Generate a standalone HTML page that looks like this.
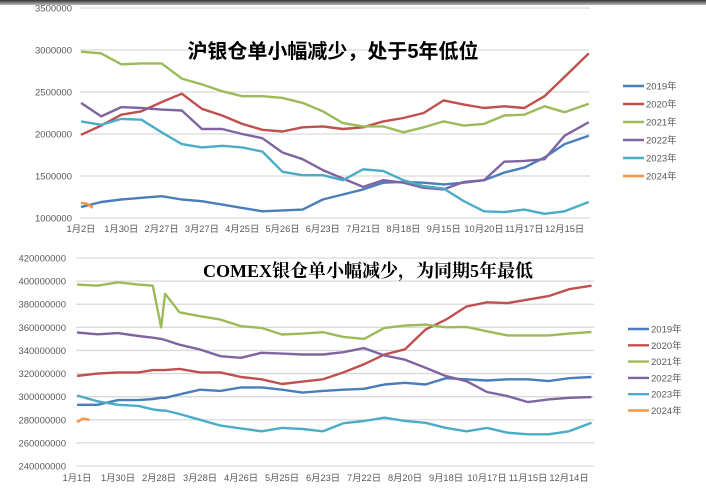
<!DOCTYPE html>
<html><head><meta charset="utf-8"><style>
body{margin:0;background:#fff;}
#wrap{position:relative;width:706px;height:499px;overflow:hidden;background:#fff;font-family:"Liberation Sans","Noto Sans CJK SC",sans-serif;}
#topbar{position:absolute;left:0;top:0;width:706px;height:5px;background:linear-gradient(#333,#bbb);}
</style></head><body>
<div id="wrap">
<div id="topbar"></div>
<svg id="svg" width="706" height="499" style="position:absolute;left:0;top:0"></svg>
</div>
<script>
// ---- top chart (SHFE) data, in millions ----
const topDays=[0,10,20,30,40,50,60,70,80,90,100,110,120,130,140,150,160,170,180,190,200,210,220,230,240,252];
const topTicks=[1000000,1500000,2000000,2500000,3000000,3500000];
const topXLabels=["1月2日","1月30日","2月27日","3月27日","4月25日","5月26日","6月23日","7月21日","8月18日","9月15日","10月20日","11月17日","12月15日"];
const top2019=[1.13,1.19,1.22,1.24,1.26,1.22,1.20,1.16,1.12,1.08,1.09,1.10,1.22,1.28,1.34,1.42,1.43,1.42,1.40,1.42,1.45,1.54,1.60,1.72,1.88,1.98];
const top2020=[1.99,2.10,2.23,2.27,2.38,2.48,2.30,2.22,2.12,2.05,2.03,2.08,2.09,2.06,2.08,2.15,2.19,2.25,2.40,2.35,2.31,2.33,2.31,2.45,2.68,2.96];
const top2021=[2.98,2.96,2.83,2.84,2.84,2.66,2.59,2.51,2.45,2.45,2.43,2.37,2.27,2.13,2.09,2.09,2.02,2.08,2.15,2.10,2.12,2.22,2.23,2.33,2.26,2.36];
const top2022=[2.37,2.21,2.32,2.31,2.29,2.28,2.06,2.06,2.00,1.95,1.78,1.70,1.57,1.47,1.37,1.45,1.42,1.36,1.34,1.43,1.45,1.67,1.68,1.70,1.98,2.14];
const top2023=[2.15,2.11,2.18,2.17,2.02,1.88,1.84,1.86,1.84,1.79,1.55,1.51,1.51,1.45,1.58,1.56,1.45,1.38,1.35,1.20,1.08,1.07,1.10,1.05,1.08,1.19];
const top2024Days=[0,3,6];
const top2024=[1.18,1.17,1.12];
// ---- bottom chart (COMEX) data, in millions ----
const botDays=[0,10,20,30,37,41,43,50,60,70,80,90,100,110,120,130,140,150,160,170,180,190,200,210,220,230,240,251];
const botTicks=[240000000,260000000,280000000,300000000,320000000,340000000,360000000,380000000,400000000,420000000];
const botXLabels=["1月1日","1月30日","2月28日","3月28日","4月26日","5月25日","6月23日","7月22日","8月20日","9月18日","10月17日","11月15日","12月14日"];
const bot2019=[293,293,297,297,298,299,299,302,306,305,308,308,306,303.5,305,306,306.8,310.5,312,310.5,316,315,314,315,315,313.5,316,317];
const bot2020=[318,320,321,321,323,323,323,324,321,321,317,315,311,313,315,321,328,336.5,341,358,366.7,378,381.7,381,384,387,393,396];
const bot2021=[397,396,399,397,396,360,389,373,369.6,366.7,361,359.5,353.8,354.6,355.8,351.7,350,359.5,361.5,362.4,360,360.4,356.6,353,353,353,354.6,356];
const bot2022=[355.5,354,355,352.5,351,350,349,345,340.8,335,333.6,338,337.3,336.5,336.5,338.5,342,335.6,332,325,317.8,313.4,304,300.5,295.3,297.6,299,299.6];
const bot2023=[301,296,293,292,289,288,288,285,280,275,272.5,270,273,272,270,277,278.9,281.8,279,277.4,273,270,273,268.8,267.4,267.4,270,277.4];
const bot2024Days=[0,3,6];
const bot2024=[278,281,280];

const names=["2019年","2020年","2021年","2022年","2023年","2024年"];
const colors=["#4a7ebb","#c0504d","#9bbb59","#8064a2","#4bacc6","#f79646"];
const NS="http://www.w3.org/2000/svg";
const svg=document.getElementById('svg');
function mk(tag,attrs,parent){const e=document.createElementNS(NS,tag);for(const k in attrs)e.setAttribute(k,attrs[k]);(parent||svg).appendChild(e);return e;}

function drawChart(cfg){
  const g=mk('g',{});
  
  
  const xs=d=>cfg.x0+d*cfg.dx;
  const ys=v=>cfg.yBot-(v-cfg.vMin)/(cfg.vMax-cfg.vMin)*(cfg.yBot-cfg.yTop);
  cfg.ticks.forEach(t=>{
    const y=ys(t/1e6);
    const l=mk('line',{x1:cfg.gx0,x2:cfg.gx1,y1:y,y2:y,stroke:'#d9d9d9','stroke-width':1.3},g);
    
    
    const tx=mk('text',{x:cfg.labX,y:y+3.5,'text-anchor':'end','font-size':9.5,fill:'#595959'},g);
    tx.textContent=String(t);
    
    
  });
  cfg.xlabels.forEach((s,i)=>{
    const tx=mk('text',{x:xs(i*20),y:cfg.xLabY,'text-anchor':'middle','font-size':9.3,fill:'#595959'},g);
    tx.textContent=s;
    
    
  });
  cfg.series.forEach((s,k)=>{
    const days=s.days||cfg.days;
    const pts=s.vals.map((v,i)=>xs(days[i]).toFixed(1)+','+ys(v).toFixed(1)).join(' ');
    const p=mk('polyline',{points:pts,fill:'none',stroke:colors[k],'stroke-width':2.4,'stroke-linejoin':'round'},g);
    
    
  });
  names.forEach((n,k)=>{
    const y=cfg.legY+k*cfg.legDy;
    const l=mk('line',{x1:cfg.legX,x2:cfg.legX+21,y1:y,y2:y,stroke:colors[k],'stroke-width':2.4},g);
    
    
    const t=mk('text',{x:cfg.legX+23,y:y+3.5,'font-size':9.5,fill:'#595959'},g);
    t.textContent=n;
    
    
  });
  const tt=mk('text',{x:cfg.titleX,y:cfg.titleY,'text-anchor':'middle','font-size':cfg.titleSize,'font-weight':'bold',fill:'#000','font-family':cfg.titleFont},g);
  tt.textContent=cfg.title;
  
  
}

drawChart({name:'shfe-chart',x0:81,dx:2.015,yTop:8,yBot:218,vMin:1,vMax:3.5,gx0:80,gx1:590,labX:72,xLabY:232,
  ticks:topTicks,xlabels:topXLabels,days:topDays,
  series:[{vals:top2019},{vals:top2020},{vals:top2021},{vals:top2022},{vals:top2023},{vals:top2024,days:top2024Days}],
  legX:623,legY:86,legDy:18,title:'沪银仓单小幅减少，处于5年低位',titleX:333,titleY:58,titleSize:20,
  titleFont:'"Liberation Sans","Noto Sans CJK SC",sans-serif'});
drawChart({name:'comex-chart',x0:77,dx:2.05,yTop:258,yBot:466,vMin:240,vMax:420,gx0:76,gx1:594,labX:66,xLabY:481,
  ticks:botTicks,xlabels:botXLabels,days:botDays,
  series:[{vals:bot2019},{vals:bot2020},{vals:bot2021},{vals:bot2022},{vals:bot2023},{vals:bot2024,days:bot2024Days}],
  legX:628,legY:329,legDy:16.3,title:'COMEX银仓单小幅减少，为同期5年最低',titleX:368,titleY:277,titleSize:18,
  titleFont:'"Liberation Serif","Noto Serif CJK SC",serif'});
</script>
</body></html>
